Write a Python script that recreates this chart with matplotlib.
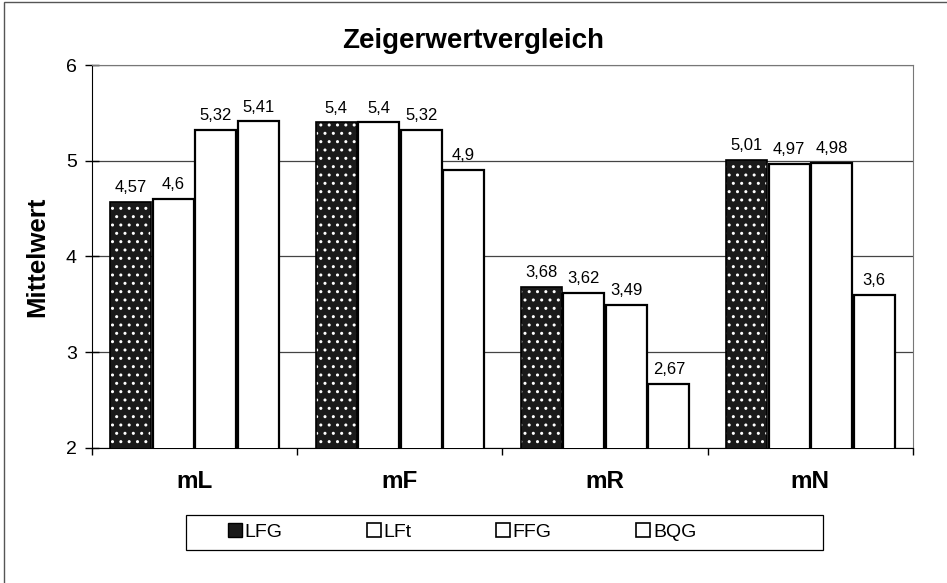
import matplotlib
matplotlib.use("Agg")
import matplotlib.pyplot as plt
import matplotlib.patches as mpatches
import numpy as np

plt.rcParams['font.family'] = ['Liberation Sans', 'DejaVu Sans']

# Zeigerwerte je Gruppe
categories = ['mL', 'mF', 'mR', 'mN']
groups = ['LFG', 'LFt', 'FFG', 'BQG']
lfg = [4.57, 5.40, 3.68, 5.01]
lft = [4.60, 5.40, 3.62, 4.97]
ffg = [5.32, 5.32, 3.49, 4.98]
bqg = [5.41, 4.90, 2.67, 3.60]
series = [lfg, lft, ffg, bqg]

fig = plt.figure(figsize=(9.47, 5.83), dpi=100)
ax = fig.add_axes([0.0971, 0.2316, 0.867, 0.6569])

# outer frame around the whole chart
fig.patches.append(mpatches.Rectangle((0.004, -0.05), 1.1, 1.047, transform=fig.transFigure,
                                      fill=False, edgecolor='#555555', lw=1.0))

x = np.arange(len(categories))
width = 0.2
step = 0.207
handles = []
for i, (name, vals) in enumerate(zip(groups, series)):
    pos = x + (i - 1.5) * step
    if i == 0:
        ax.bar(pos, vals, width, bottom=0, color='#1a1a1a', edgecolor='white',
               hatch='..', linewidth=0, zorder=3)
        ax.bar(pos, vals, width, fill=False, edgecolor='black', linewidth=1.2, zorder=4)
        handles.append(mpatches.Patch(facecolor='#1a1a1a', edgecolor='black',
                                      linewidth=1.0, label=name))
    else:
        ax.bar(pos, vals, width, color='white', edgecolor='black', linewidth=1.6, zorder=3)
        handles.append(mpatches.Patch(facecolor='white', edgecolor='black',
                                      linewidth=1.2, label=name))
    for px, v in zip(pos, vals):
        ax.annotate(f"{v:g}".replace('.', ','), (px, v), xytext=(0, 5),
                    textcoords='offset points', ha='center', va='bottom', fontsize=12)

# hatch color of the dark bars
for p in ax.patches:
    if p.get_hatch():
        p._hatch_color = (1, 1, 1, 1)

ax.set_ylim(2, 6)
ax.set_xlim(-0.5, 3.5)
ax.set_yticks([2, 3, 4, 5, 6])
ax.tick_params(axis='y', direction='inout', length=10, width=1, labelsize=14, pad=6)
ax.set_xticks(x)
ax.set_xticklabels(categories, fontsize=17.5, fontweight='bold')
ax.tick_params(axis='x', length=0, pad=16)
ax.set_xticks(np.arange(-0.5, 4.0, 1.0), minor=True)
ax.tick_params(axis='x', which='minor', direction='out', length=5, width=1)
ax.yaxis.grid(True, color='#444444', linewidth=0.9, zorder=0)
ax.set_axisbelow(True)

ax.spines['left'].set_color('black')
ax.spines['bottom'].set_color('black')
ax.spines['top'].set_color('#777777')
ax.spines['right'].set_color('#777777')

ax.set_ylabel('Mittelwert', fontsize=18.5, fontweight='bold', labelpad=12)
fig.text(0.5, 1 - 41 / 583, 'Zeigerwertvergleich', fontsize=20, fontweight='bold',
         ha='center', va='center')

# legend box and entries
fig.patches.append(mpatches.Rectangle((186 / 947, 1 - 550 / 583), 637 / 947, 35 / 583,
                                      transform=fig.transFigure, fill=False,
                                      edgecolor='black', lw=0.9))
leg = fig.legend(handles=handles, loc='center left', bbox_to_anchor=(228 / 947, 1 - 532 / 583),
                 ncol=4, fontsize=14, frameon=False, borderpad=0, borderaxespad=0,
                 handlelength=0.7, handleheight=0.7, handletextpad=0.15,
                 columnspacing=4.35)

fig.savefig('out.png', dpi=100)
